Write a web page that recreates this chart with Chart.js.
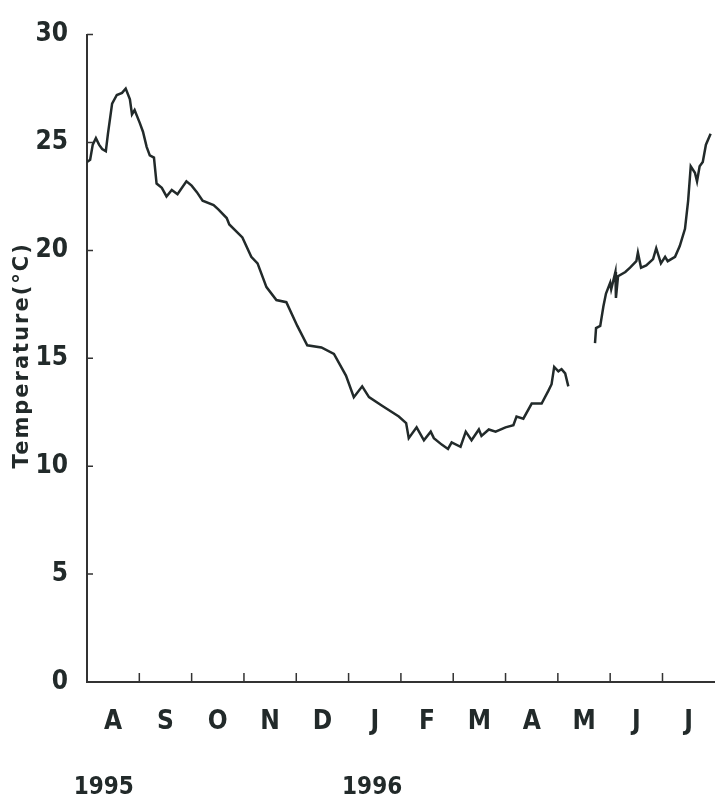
<!DOCTYPE html>
<html>
<head>
<meta charset="utf-8">
<script src="https://cdn.jsdelivr.net/npm/chart.js@4.4.1/dist/chart.umd.min.js"></script>
<style>
  html, body { margin: 0; padding: 0; background: #fff; }
  #wrap { position: relative; width: 718px; height: 802px; }
</style>
</head>
<body>
<div id="wrap"><canvas id="temp-canvas"></canvas></div>
<script>
const monthLabels = ['A', 'S', 'O', 'N', 'D', 'J', 'F', 'M', 'A', 'M', 'J', 'J'];
const yearLabels = ['1995', '1996'];
const yearMonths = [0.32, 5.45];
const yTicks = [0, 5, 10, 15, 20, 25, 30];

// months since 1 Aug 1995 and temperature (°C), before the gap in late April
const monthsA = [0, 0.06, 0.11, 0.17, 0.23, 0.29, 0.36, 0.40, 0.48, 0.57, 0.67, 0.74, 0.82, 0.86, 0.91,
  1.01, 1.07, 1.14, 1.20, 1.28, 1.33, 1.43, 1.52, 1.62, 1.73, 1.90, 2.00, 2.10, 2.21, 2.42, 2.51, 2.67,
  2.72, 2.97, 3.14, 3.26, 3.43, 3.62, 3.81, 4.02, 4.21, 4.48, 4.72, 4.95, 5.10, 5.26, 5.39, 5.64, 5.96,
  6.10, 6.15, 6.30, 6.44, 6.57, 6.63, 6.78, 6.90, 6.97, 7.14, 7.24, 7.35, 7.49, 7.54, 7.68, 7.81, 8.00,
  8.15, 8.21, 8.34, 8.50, 8.69, 8.82, 8.88, 8.93, 9.01, 9.07, 9.14, 9.20];
const tempsA = [24.1, 24.2, 24.9, 25.2, 24.9, 24.7, 24.6, 25.4, 26.8, 27.2, 27.3, 27.5, 27.0, 26.3, 26.5,
  25.9, 25.5, 24.8, 24.4, 24.3, 23.1, 22.9, 22.5, 22.8, 22.6, 23.2, 23.0, 22.7, 22.3, 22.1, 21.9, 21.5,
  21.2, 20.6, 19.7, 19.4, 18.3, 17.7, 17.6, 16.5, 15.6, 15.5, 15.2, 14.2, 13.2, 13.7, 13.2, 12.8, 12.3,
  12.0, 11.3, 11.8, 11.2, 11.6, 11.3, 11.0, 10.8, 11.1, 10.9, 11.6, 11.2, 11.7, 11.4, 11.7, 11.6, 11.8,
  11.9, 12.3, 12.2, 12.9, 12.9, 13.5, 13.8, 14.6, 14.4, 14.5, 14.3, 13.7];

// after the gap, mid May to end of July
const monthsB = [9.71, 9.73, 9.81, 9.87, 9.92, 10.00, 10.02, 10.10, 10.11, 10.15, 10.29, 10.38, 10.50,
  10.53, 10.59, 10.69, 10.82, 10.88, 10.97, 11.05, 11.10, 11.24, 11.33, 11.43, 11.49, 11.54, 11.62,
  11.66, 11.71, 11.77, 11.83, 11.92];
const tempsB = [15.7, 16.4, 16.5, 17.4, 18.0, 18.5, 18.2, 19.0, 17.8, 18.8, 19.0, 19.2, 19.5,
  19.9, 19.2, 19.3, 19.6, 20.1, 19.4, 19.7, 19.5, 19.7, 20.2, 21.0, 22.3, 23.9, 23.6,
  23.2, 23.9, 24.1, 24.9, 25.4];

const INK = '#222a2a';
const NARROW = '"Liberation Sans Narrow", "DejaVu Sans Condensed", "Arial Narrow", sans-serif';

// inward tick marks, year captions and the spaced-out y title
const axisDecor = {
  id: 'axisDecor',
  afterDraw(chart) {
    const { ctx, chartArea, scales: { x, y } } = chart;
    ctx.save();
    ctx.strokeStyle = '#333';
    ctx.lineWidth = 1.5;
    ctx.beginPath();
    for (let m = 1; m < monthLabels.length; m++) {
      const px = x.getPixelForValue(m);
      ctx.moveTo(px, chartArea.bottom);
      ctx.lineTo(px, chartArea.bottom - 9);
    }
    yTicks.slice(1).forEach(v => {
      const py = y.getPixelForValue(v);
      ctx.moveTo(chartArea.left, py);
      ctx.lineTo(chartArea.left + 6, py);
    });
    ctx.stroke();

    ctx.fillStyle = INK;
    ctx.font = 'bold 24px ' + NARROW;
    ctx.textAlign = 'center';
    ctx.textBaseline = 'middle';
    yearLabels.forEach((t, i) => ctx.fillText(t, x.getPixelForValue(yearMonths[i]), chart.height - 14));

    ctx.translate(23, (chartArea.top + chartArea.bottom) / 2 - 3);
    ctx.rotate(-Math.PI / 2);
    ctx.font = 'bold 21px "DejaVu Sans", sans-serif';
    ctx.letterSpacing = '2px';
    ctx.fillText('Temperature(°C)', 0, 0);
    ctx.restore();
  }
};

const lineStyle = {
  borderColor: INK,
  borderWidth: 2.5,
  pointRadius: 0,
  tension: 0,
  fill: false,
};

new Chart(document.getElementById('temp-canvas').getContext('2d'), {
  type: 'line',
  data: {
    datasets: [
      { label: 'before', data: monthsA.map((m, i) => ({ x: m, y: tempsA[i] })), ...lineStyle },
      { label: 'after', data: monthsB.map((m, i) => ({ x: m, y: tempsB[i] })), ...lineStyle },
    ],
  },
  options: {
    responsive: true,
    maintainAspectRatio: false,
    animation: false,
    layout: { padding: { top: 28, right: 0, left: 0, bottom: 0 } },
    scales: {
      x: {
        type: 'linear',
        min: 0,
        max: 12,
        afterBuildTicks: s => { s.ticks = monthLabels.map((_, i) => ({ value: i + 0.5 })); },
        afterFit: s => { s.height = 120; },
        ticks: {
          autoSkip: false,
          maxRotation: 0,
          padding: 25,
          color: INK,
          font: { family: NARROW, size: 26, weight: 'bold' },
          callback: v => monthLabels[Math.floor(v)],
        },
        grid: { display: false, drawTicks: false },
        border: { display: true, color: '#333', width: 2 },
      },
      y: {
        min: 0,
        max: 30,
        afterBuildTicks: s => { s.ticks = yTicks.map(v => ({ value: v })); },
        afterFit: s => { s.width = 87; },
        ticks: {
          padding: 19,
          color: INK,
          font: { family: NARROW, size: 26, weight: 'bold' },
        },
        grid: { display: false, drawTicks: false },
        border: { display: true, color: '#333', width: 2 },
      },
    },
    plugins: {
      legend: { display: false },
      tooltip: { enabled: false },
    },
  },
  plugins: [axisDecor],
});
</script>
</body>
</html>
